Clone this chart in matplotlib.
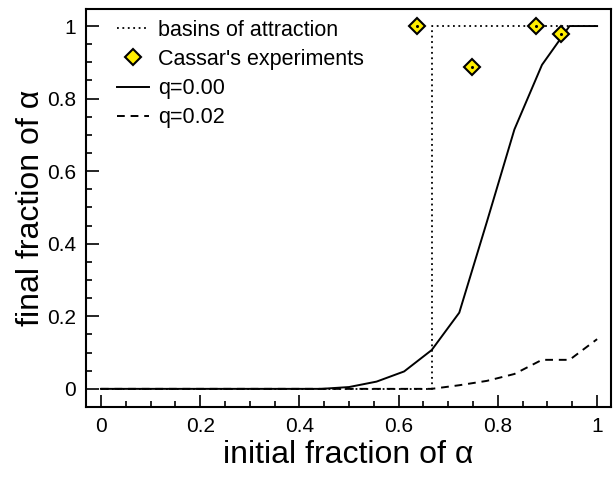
import matplotlib
matplotlib.use("Agg")
import matplotlib.pyplot as plt
from matplotlib.ticker import MultipleLocator

plt.rcParams['font.family'] = ['Liberation Sans', 'DejaVu Sans']

# data
x_sim = [i / 18 for i in range(19)]
q000 = [0, 0, 0, 0, 0, 0, 0, 0, 0, 0.005, 0.02, 0.048, 0.107, 0.21, 0.46, 0.715, 0.893, 1.0, 1.0]
q002 = [0, 0, 0, 0, 0, 0, 0, 0, 0, 0, 0, 0, 0, 0.01, 0.022, 0.041, 0.08, 0.08, 0.137]
basin_x = [0, 2 / 3, 2 / 3, 1]
basin_y = [0, 0, 1, 1]
cassar_x = [0.638, 0.747, 0.877, 0.927]
cassar_y = [1.0, 0.888, 1.0, 0.978]
tick_vals = [0, 0.2, 0.4, 0.6, 0.8, 1.0]
tick_labels = ['0', '0.2', '0.4', '0.6', '0.8', '1']

fig = plt.figure(figsize=(6.13, 4.83), dpi=100)
ax = fig.add_axes([86 / 613, 1 - 407 / 483, 525 / 613, 398 / 483])

ax.plot(basin_x, basin_y, ls=(0, (1, 2)), color='black', lw=1.3, label='basins of attraction')
ax.plot(x_sim, q000, color='black', lw=1.4, label='q=0.00')
ax.plot(x_sim, q002, color='black', lw=1.4, ls=(0, (4, 3)), label='q=0.02')
ax.plot(cassar_x, cassar_y, ls='none', marker='D', ms=8.2, mfc='#ffee00', mec='black', mew=1.5,
        label="Cassar's experiments")
ax.plot(cassar_x, cassar_y, ls='none', marker='o', ms=1.2, color='black')

ax.set_xlim(-0.03, 1.028)
ax.set_ylim(-0.05, 1.047)
ax.xaxis.set_minor_locator(MultipleLocator(0.05))
ax.yaxis.set_minor_locator(MultipleLocator(0.05))
ax.set_xticks(tick_vals)
ax.set_xticklabels(tick_labels)
ax.set_yticks(tick_vals)
ax.set_yticklabels(tick_labels)
ax.tick_params(which='both', direction='in', top=False, right=False, labelsize=15, width=1.2)
ax.tick_params(which='major', length=9, pad=7)
ax.tick_params(which='minor', length=4.5)
for s in ax.spines.values():
    s.set_linewidth(1.5)

ax.set_xlabel('initial fraction of α', fontsize=23, labelpad=3)
ax.set_ylabel('final fraction of α', fontsize=23, labelpad=1)

h, l = ax.get_legend_handles_labels()
order = [0, 3, 1, 2]
ax.legend([h[i] for i in order], [l[i] for i in order], loc='upper left', frameon=False,
          fontsize=15.5, handlelength=1.5, handletextpad=0.42, labelspacing=0.38,
          borderaxespad=0.1, bbox_to_anchor=(0.038, 1.0))

fig.savefig('out.png', dpi=100)
